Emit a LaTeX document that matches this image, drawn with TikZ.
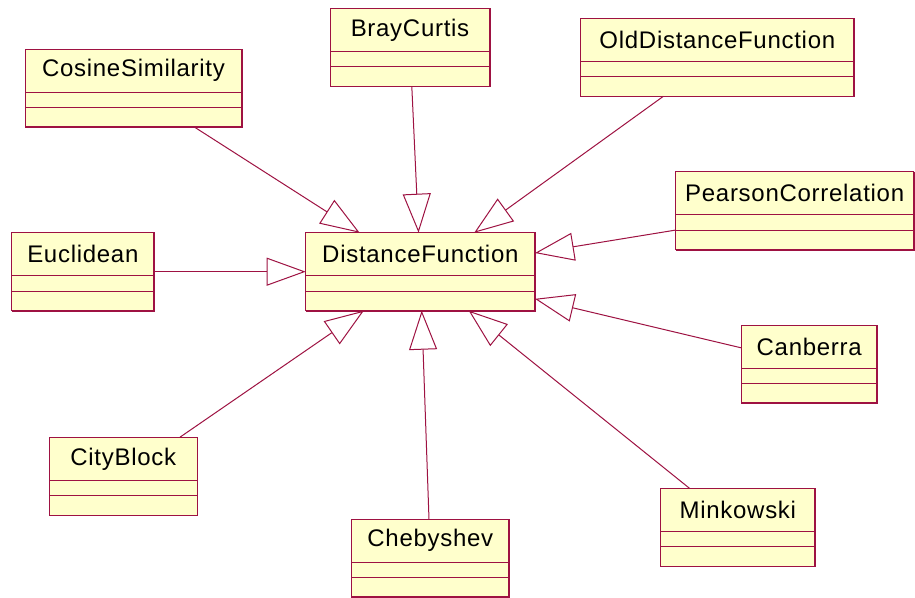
\documentclass[tikz,border=0pt]{standalone}
\usepackage{fontspec}
\usetikzlibrary{arrows.meta,calc}
\newfontfamily\umlfont[LetterSpace=3]{Liberation Sans}
\definecolor{umlline}{RGB}{158,18,66}
\definecolor{umlfill}{RGB}{255,255,204}
\tikzset{
  classbox/.style={draw=umlline, fill=umlfill, line width=1pt, minimum height=78pt,
    inner sep=0pt, outer sep=0pt, anchor=north west},
  classname/.style={font=\umlfont\fontsize{24}{28}\selectfont, inner sep=0pt},
  compartment/.style={draw=umlline, line width=0.9pt},
  shadowedge/.style={draw=umlline, line width=1.6pt},
  gen/.style={draw=umlline, line width=1pt,
    -{Triangle[open, length=39pt, width=28pt]}},
}
% class box: name, left, top, width, title
\newcommand\umlclass[5]{%
  \node[classbox, minimum width=#4pt] (#1) at (#2,#3) {};
  \draw[compartment] ($(#1.north west)+(0,43)$) -- ($(#1.north east)+(0,43)$);
  \draw[compartment] ($(#1.north west)+(0,58.5)$) -- ($(#1.north east)+(0,58.5)$);
  \draw[shadowedge] (#1.north east) -- (#1.south east) -- (#1.south west);
  \node[classname] (#1-title) at ($(#1.north)+(0,21.5)$) {#5};
}
\begin{document}
\begin{tikzpicture}[x=1pt, y=-1pt]
  \fill[white] (0,0) rectangle (915,597);
  \useasboundingbox (0,0) rectangle (915,597);

  \umlclass{df}{305.7}{232.7}{229.3}{DistanceFunction}
  \umlclass{cos}{25}{49}{217}{CosineSimilarity}
  \umlclass{bray}{330}{8.3}{160}{BrayCurtis}
  \umlclass{old}{580.7}{18.3}{273.3}{OldDistanceFunction}
  \umlclass{pear}{675.7}{171.7}{238}{PearsonCorrelation}
  \umlclass{eucl}{11.7}{232.7}{142.3}{Euclidean}
  \umlclass{canb}{741.7}{325}{135}{Canberra}
  \umlclass{city}{49.3}{437.3}{148}{CityBlock}
  \umlclass{cheb}{351.7}{519}{157.3}{Chebyshev}
  \umlclass{mink}{660.7}{488.3}{154.3}{Minkowski}

  % generalizations towards DistanceFunction
  \foreach \sub in {cos,bray,old,pear,eucl,canb,city,cheb,mink}
    \draw[gen] (\sub) -- (df);
\end{tikzpicture}
\end{document}
